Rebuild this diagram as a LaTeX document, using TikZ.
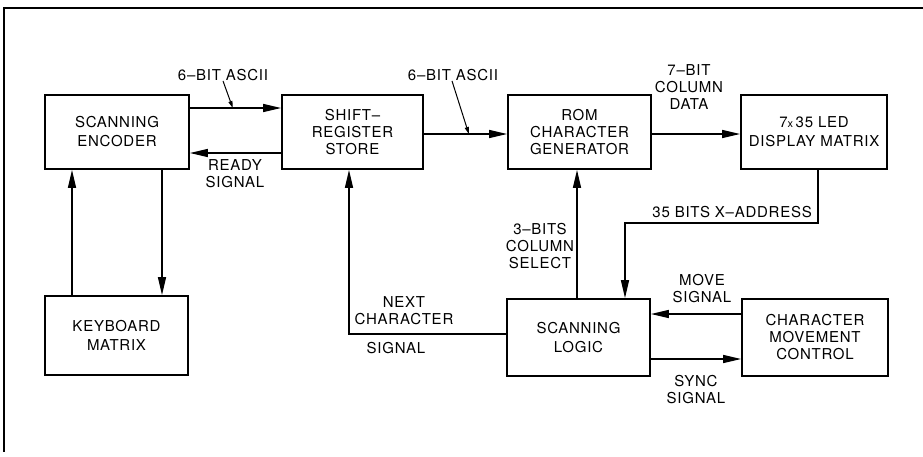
\documentclass[tikz,border=0pt]{standalone}
\usepackage{fontspec}
\setmainfont{TeX Gyre Heros}[LetterSpace=5]
\usetikzlibrary{arrows.meta}
\begin{document}
\begin{tikzpicture}[x=1pt,y=-1pt,
  font=\fontsize{15}{19}\selectfont,
  box/.style={draw,line width=1.8pt,rectangle,align=center,inner sep=0pt},
  lbl/.style={align=center,inner sep=0pt,font=\fontsize{15}{17}\selectfont},
  arr/.style={line width=1.5pt,-{Triangle[length=18pt,width=8pt]}},
  ptr/.style={line width=1pt,-{Triangle[length=7pt,width=4pt]}}]
\useasboundingbox (0,0) rectangle (923,456);
% frame
\draw[line width=2.8pt] (923,8) -- (4,8) -- (4,452);
% boxes
\node[box,minimum width=144pt,minimum height=74pt] (enc) at (117,132) {SCANNING\\ENCODER};
\node[box,minimum width=141pt,minimum height=74pt] (srs) at (352.5,132) {SHIFT--\\[-2pt]REGISTER\\[-2pt]STORE};
\node[box,minimum width=143pt,minimum height=74pt] (rom) at (579.5,132) {ROM\\[-2pt]CHARACTER\\[-2pt]GENERATOR};
\node[box,minimum width=146pt,minimum height=74pt] (led) at (814,132) {7{\fontsize{11}{11}\selectfont x}\,35 LED\\DISPLAY MATRIX};
\node[box,minimum width=143pt,minimum height=79pt] (kbd) at (116.5,335.5) {KEYBOARD\\MATRIX};
\node[box,minimum width=143pt,minimum height=77pt] (slog) at (578.5,337.5) {SCANNING\\LOGIC};
\node[box,minimum width=146pt,minimum height=77pt] (cmc) at (815,337.5) {CHARACTER\\[-2pt]MOVEMENT\\[-2pt]CONTROL};
% labels
\node[lbl] (l1) at (223,75) {6--BIT ASCII};
\node[lbl] (l2) at (453,75) {6--BIT ASCII};
\node[lbl] (lready) at (235,174) {READY\\SIGNAL};
\node[lbl] (lcol) at (689,87) {7--BIT\\COLUMN\\DATA};
\node[lbl] (lsel) at (540,246) {3--BITS\\COLUMN\\SELECT};
\node[lbl] (lnext) at (404,311) {NEXT\\CHARACTER};
\node[lbl] (lsig) at (396,348) {SIGNAL};
\node[lbl] (lmove) at (702,289) {MOVE\\SIGNAL};
\node[lbl] (lsync) at (696,390) {SYNC\\SIGNAL};
% connectors
\draw[arr] ([yshift=24pt]enc.east) -- coordinate[pos=0.47] (p1) ([yshift=24pt]srs.west);
\draw[ptr] (l1.south) -- (p1);
\draw[arr] ([yshift=-21pt]srs.west) -- ([yshift=-21pt]enc.east);
\draw[arr] ([yshift=-2pt]srs.east) -- coordinate[pos=0.54] (p2) ([yshift=-2pt]rom.west);
\draw[ptr] ([xshift=-1pt]l2.south) -- (p2);
\draw[arr] ([yshift=-2pt]rom.east) -- ([yshift=-2pt]led.west);
\draw[arr] ([xshift=-44.5pt]kbd.north) -- ([xshift=-45pt]enc.south);
\draw[arr] ([xshift=45pt]enc.south) -- ([xshift=45.5pt]kbd.north);
\draw[arr] ([xshift=-1.5pt]slog.north) -- ([xshift=-2.5pt]rom.south);
\draw[arr] ([xshift=4pt]led.south) -- ++(0,53) coordinate (xa) -| ([xshift=46.5pt]slog.north);
\node[lbl,anchor=south east] (lxa) at ([xshift=-6pt,yshift=5pt]xa) {35 BITS X--ADDRESS};
\draw[arr] ([yshift=3.5pt]slog.west) -| ([xshift=-3.5pt]srs.south);
\draw[arr] ([yshift=23.5pt]cmc.west) -- ([yshift=23.5pt]slog.east);
\draw[arr] ([yshift=-21.5pt]slog.east) -- ([yshift=-21.5pt]cmc.west);
\end{tikzpicture}
\end{document}
